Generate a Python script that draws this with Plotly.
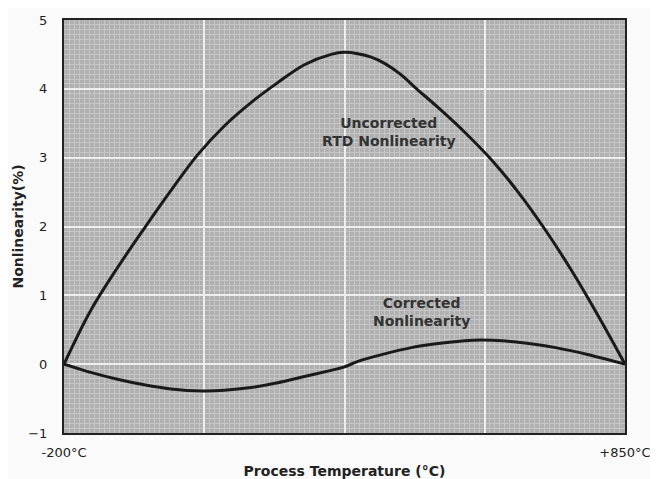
import plotly.graph_objects as go

# Data
temp_uncorr = [-200, -150, -100, -50, 0, 50, 100, 150, 200, 250, 300, 325,
               350, 375, 400, 430, 460, 500, 550, 600, 650, 700, 750, 800, 850]
nonlin_uncorr = [0, 0.78, 1.4, 1.97, 2.52, 3.04, 3.46, 3.8, 4.09, 4.35, 4.5, 4.53,
                 4.51, 4.46, 4.37, 4.21, 4.0, 3.73, 3.37, 2.97, 2.5, 1.96, 1.36, 0.7, 0]

temp_corr = [-200, -150, -100, -50, 0, 60, 100, 150, 200, 250, 300, 325,
             350, 400, 450, 500, 550, 580, 620, 680, 720, 780, 850]
nonlin_corr = [0, -0.12, -0.22, -0.3, -0.36, -0.39, -0.38, -0.34, -0.27, -0.18, -0.09, -0.04,
               0.04, 0.15, 0.24, 0.3, 0.34, 0.35, 0.34, 0.29, 0.24, 0.14, 0]

x_tickvals = [-200, 62.5, 325, 587.5, 850]
x_ticktext = ["-200°C", "", "", "", "+850°C"]
y_tickvals = [-1, 0, 1, 2, 3, 4, 5]

FONT = "DejaVu Sans"
INK = "#222222"

fig = go.Figure()
fig.add_trace(go.Scatter(x=temp_uncorr, y=nonlin_uncorr, mode="lines",
                         line=dict(color="#1a1a1a", width=3, shape="spline", smoothing=1.0),
                         name="Uncorrected RTD Nonlinearity", showlegend=False))
fig.add_trace(go.Scatter(x=temp_corr, y=nonlin_corr, mode="lines",
                         line=dict(color="#1a1a1a", width=3, shape="spline", smoothing=0.6),
                         name="Corrected Nonlinearity", showlegend=False))

fig.add_annotation(x=408, y=3.37, text="<b>Uncorrected<br>RTD Nonlinearity</b>",
                   showarrow=False, font=dict(family=FONT, size=14, color="#333333"))
fig.add_annotation(x=470, y=0.76, text="<b>Corrected<br>Nonlinearity</b>",
                   showarrow=False, font=dict(family=FONT, size=14, color="#333333"))

fig.update_xaxes(range=[-200, 850], tickmode="array", tickvals=x_tickvals, ticktext=x_ticktext,
                 showgrid=True, gridcolor="#eeeeee", gridwidth=2,
                 minor=dict(tick0=-200, dtick=9.375, showgrid=True, gridcolor="#c6c6c6", gridwidth=1),
                 showline=True, linecolor=INK, linewidth=2, mirror=True,
                 zeroline=False, ticks="", ticklabelstandoff=6, automargin=False,
                 tickfont=dict(family=FONT, size=13, color=INK),
                 title=dict(text="<b>Process Temperature (°C)</b>", standoff=13,
                            font=dict(family=FONT, size=14, color=INK)))
fig.update_yaxes(range=[-1, 5], tickmode="array", tickvals=y_tickvals,
                 showgrid=True, gridcolor="#eeeeee", gridwidth=2,
                 minor=dict(tick0=-1, dtick=1/14, showgrid=True, gridcolor="#c6c6c6", gridwidth=1),
                 showline=True, linecolor=INK, linewidth=2, mirror=True,
                 zeroline=False, ticks="", ticklabelstandoff=12, automargin=False,
                 tickfont=dict(family=FONT, size=13, color=INK),
                 title=dict(text="<b>Nonlinearity(%)</b>", standoff=1,
                            font=dict(family=FONT, size=14, color=INK)))

# page body has an 8px margin, so the figure is shrunk by 8px to keep the plot area in place
fig.update_layout(width=650, height=471, margin=dict(l=56, r=33, t=12, b=46),
                  plot_bgcolor="#b0b0b0", paper_bgcolor="#fafafa",
                  font=dict(family=FONT))

fig.write_html("out.html")
